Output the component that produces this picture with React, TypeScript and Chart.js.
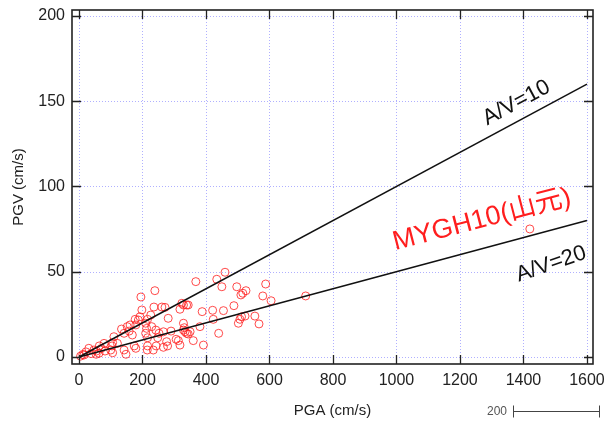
import React, { useEffect, useRef } from "react";
import { Chart, registerables } from "chart.js";

Chart.register(...registerables);

// ---- data ----
const pga = [
  5, 12, 16, 22, 31, 38, 47, 55, 63, 70,
  79, 82, 100, 104, 110, 121, 134, 142, 142, 152,
  161, 168, 179, 179, 187, 192, 195, 198, 210, 210,
  213, 215, 226, 229, 234, 236, 239, 242, 252, 261,
  266, 266, 271, 276, 281, 313, 318, 318, 324, 329,
  329, 329, 334, 339, 339, 344, 344, 350, 360, 368,
  381, 388, 392, 421, 423, 434, 440, 450, 455, 460,
  488, 497, 502, 507, 510, 512, 516, 523, 526, 554,
  567, 579, 588, 605, 714, 1420,
  177, 216, 158, 290, 332, 216, 248, 306, 106, 64,
  106, 174, 243, 279, 216, 148, 54,
];
const pgv = [
  0.5, 1.5, 1.2, 3, 5.1, 2, 4.1, 3.5, 2.2, 5,
  8.0, 3.5, 4.1, 6.5, 11.9, 8.0, 16.4, 13.9, 4.1, 17.8,
  18.8, 12.9, 5.1, 18.8, 21.7, 23.6, 35.2, 27.6, 19.8, 13.9,
  16.8, 4.1, 24.6, 17.8, 4.1, 29.3, 38.9, 15.8, 13.9, 29.3,
  14.8, 5.7, 29.1, 9.0, 22.7, 9.6, 28.0, 7.0, 31.5, 30.5,
  19.8, 15.8, 14.8, 30.5, 13.9, 30.5, 13.5, 14.8, 9.6, 44.2,
  17.8, 26.6, 7.0, 27.4, 22.1, 45.6, 13.9, 41.2, 27.2, 49.7,
  30.1, 41.2, 19.8, 22.1, 36.4, 23.6, 37.4, 24.0, 38.9, 24.0,
  19.4, 35.8, 42.8, 33.0, 35.8, 75.1,
  22.1, 22.1, 15.2, 15.2, 17.2, 11.3, 11.3, 10.4, 8.4, 6.5,
  2.5, 6.5, 6.5, 6.5, 6.5, 1.6, 1.6,
];
const xTicks = [0, 200, 400, 600, 800, 1000, 1200, 1400, 1600];
const yTicks = [0, 50, 100, 150, 200];
const avRatios = [10, 20];
const avLineEnd = 1600;
const xTitle = "PGA (cm/s)";
const yTitle = "PGV (cm/s)";
const stationLabel = "MYGH10(山元)";
const avLabels = ["A/V=10", "A/V=20"];
const strayLabel = "200";

const FONT = "'Liberation Sans', Arial, Helvetica, sans-serif";

export default function App() {
  const ref = useRef<HTMLCanvasElement | null>(null);

  useEffect(() => {
    const canvas = ref.current;
    if (!canvas) return;

    const overlay = {
      id: "overlay",
      beforeDatasetsDraw(chart: any) {
        const { ctx, chartArea, scales } = chart;
        const { left, right, top, bottom } = chartArea;
        const x = scales.x;
        const y = scales.y;
        ctx.save();
        ctx.strokeStyle = "rgba(150,150,255,0.75)";
        ctx.lineWidth = 1;
        ctx.setLineDash([1, 2]);
        xTicks.forEach((v) => {
          const px = Math.round(x.getPixelForValue(v)) + 0.5;
          ctx.beginPath();
          ctx.moveTo(px, top);
          ctx.lineTo(px, bottom);
          ctx.stroke();
        });
        yTicks.forEach((v) => {
          const py = Math.round(y.getPixelForValue(v)) + 0.5;
          ctx.beginPath();
          ctx.moveTo(left, py);
          ctx.lineTo(right, py);
          ctx.stroke();
        });
        ctx.restore();
      },
      afterDatasetsDraw(chart: any) {
        const { ctx, chartArea, scales } = chart;
        const { left, right, top, bottom } = chartArea;
        const x = scales.x;
        const y = scales.y;
        ctx.save();
        // frame
        ctx.strokeStyle = "#222";
        ctx.lineWidth = 1.6;
        ctx.strokeRect(left, top, right - left, bottom - top);
        // inward tick marks
        ctx.lineWidth = 1.3;
        const tl = 9;
        xTicks.forEach((v) => {
          const px = Math.round(x.getPixelForValue(v)) + 0.5;
          ctx.beginPath();
          ctx.moveTo(px, bottom);
          ctx.lineTo(px, bottom - tl);
          ctx.moveTo(px, top);
          ctx.lineTo(px, top + tl);
          ctx.stroke();
        });
        yTicks.forEach((v) => {
          const py = Math.round(y.getPixelForValue(v)) + 0.5;
          ctx.beginPath();
          ctx.moveTo(left, py);
          ctx.lineTo(left + tl, py);
          ctx.moveTo(right, py);
          ctx.lineTo(right - tl, py);
          ctx.stroke();
        });

        const drawRot = (text: string, vx: number, vy: number, angDeg: number, font: string, color: string) => {
          ctx.save();
          ctx.translate(x.getPixelForValue(vx), y.getPixelForValue(vy));
          ctx.rotate((angDeg * Math.PI) / 180);
          ctx.font = font;
          ctx.fillStyle = color;
          ctx.textAlign = "center";
          ctx.textBaseline = "middle";
          ctx.fillText(text, 0, 0);
          ctx.restore();
        };
        const lineAngle = (r: number) =>
          (Math.atan2(
            y.getPixelForValue(avLineEnd / r) - y.getPixelForValue(0),
            x.getPixelForValue(avLineEnd) - x.getPixelForValue(0)
          ) * 180) / Math.PI;

        drawRot(avLabels[0], 1378, 149, lineAngle(avRatios[0]), `22px ${FONT}`, "#111");
        drawRot(avLabels[1], 1487, 54.5, -19, `22px ${FONT}`, "#111");
        drawRot(stationLabel, 1269, 80.4, -14.5, `27px ${FONT}, 'Noto Sans CJK JP'`, "rgb(255,30,30)");

        // stray scale fragment at bottom-right
        const cw = chart.width;
        const yy = 411.5;
        ctx.fillStyle = "#555";
        ctx.font = `12px ${FONT}`;
        ctx.textAlign = "right";
        ctx.textBaseline = "middle";
        ctx.fillText(strayLabel, cw - 99, yy);
        ctx.strokeStyle = "#444";
        ctx.lineWidth = 1;
        ctx.beginPath();
        ctx.moveTo(cw - 93, yy);
        ctx.lineTo(cw - 6, yy);
        ctx.moveTo(cw - 92.5, yy - 6);
        ctx.lineTo(cw - 92.5, yy + 6);
        ctx.moveTo(cw - 6.5, yy - 6);
        ctx.lineTo(cw - 6.5, yy + 6);
        ctx.stroke();
        ctx.restore();
      },
    };

    const chart = new Chart(canvas, {
      type: "scatter",
      data: {
        datasets: [
          ...avRatios.map((r) => ({
            type: "line" as const,
            data: [
              { x: 0, y: 0 },
              { x: avLineEnd, y: avLineEnd / r },
            ],
            borderColor: "#111",
            borderWidth: 1.5,
            pointRadius: 0,
            showLine: true,
            fill: false,
          })),
          {
            type: "scatter" as const,
            data: pga.map((v, i) => ({ x: v, y: pgv[i] })),
            pointStyle: "circle",
            pointRadius: 4,
            borderColor: "rgba(255,30,30,0.8)",
            backgroundColor: "rgba(0,0,0,0)",
            borderWidth: 1,
          },
        ],
      } as any,
      options: {
        responsive: false,
        animation: false,
        devicePixelRatio: 1,
        layout: { padding: { top: 10, right: 13, left: 0, bottom: 0 } },
        plugins: { legend: { display: false }, tooltip: { enabled: false } },
        scales: {
          x: {
            type: "linear",
            min: -22,
            max: 1619,
            afterBuildTicks: (s: any) => {
              s.ticks = xTicks.map((v) => ({ value: v }));
            },
            afterFit: (s: any) => {
              s.height = 57;
              s.paddingLeft = 0;
              s.paddingRight = 0;
            },
            grid: { display: false, drawTicks: false },
            border: { display: false },
            ticks: {
              font: { family: FONT, size: 16 },
              color: "#222",
              padding: 7,
              maxRotation: 0,
              autoSkip: false,
              callback: (v: any) => String(v),
            },
            title: {
              display: true,
              text: xTitle,
              font: { family: FONT, size: 15 },
              color: "#222",
              padding: { top: 0, bottom: 1 },
            },
          },
          y: {
            type: "linear",
            min: -4.1,
            max: 203.5,
            afterBuildTicks: (s: any) => {
              s.ticks = yTicks.map((v) => ({ value: v }));
            },
            afterFit: (s: any) => {
              s.width = 72;
              s.paddingTop = 0;
              s.paddingBottom = 0;
            },
            grid: { display: false, drawTicks: false },
            border: { display: false },
            ticks: {
              font: { family: FONT, size: 16 },
              color: "#222",
              padding: 7,
              autoSkip: false,
              callback: (v: any) => String(v),
            },
            title: {
              display: true,
              text: yTitle,
              font: { family: FONT, size: 15 },
              color: "#222",
              padding: { top: 10, bottom: 0 },
            },
          },
        },
      } as any,
      plugins: [overlay],
    });

    return () => chart.destroy();
  }, []);

  return (
    <div style={{ position: "fixed", left: 0, top: 0, width: 606, height: 421, background: "#fff" }}>
      <canvas ref={ref} width={606} height={421} style={{ display: "block", width: 606, height: 421 }} />
    </div>
  );
}
